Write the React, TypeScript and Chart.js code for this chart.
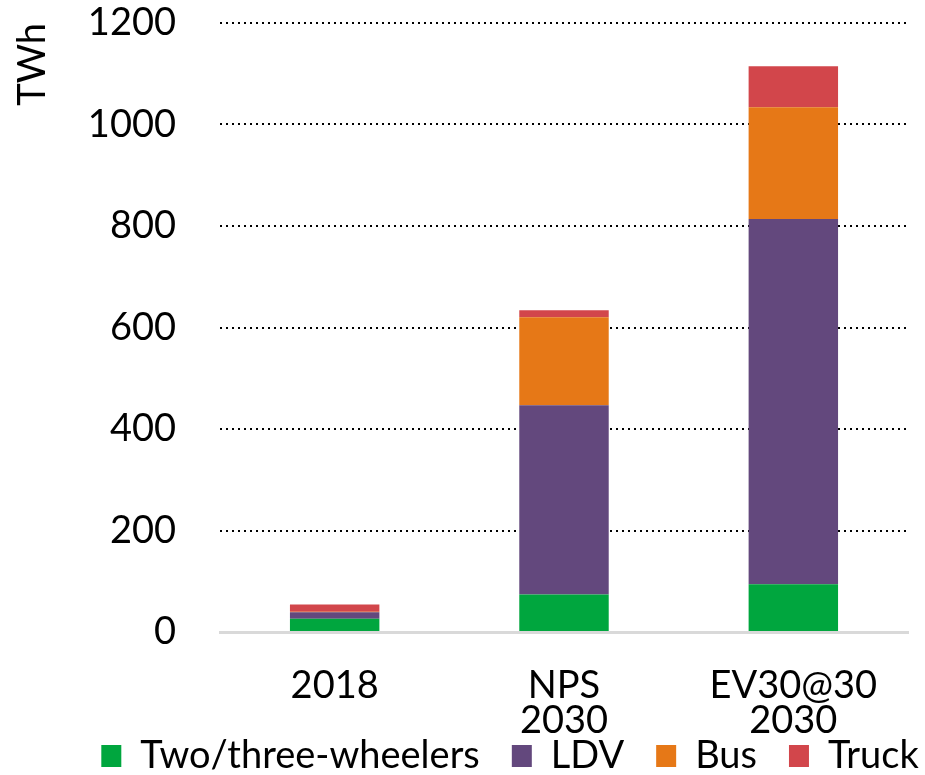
import React, { useEffect, useRef } from "react";
import { Chart, registerables } from "chart.js";

Chart.register(...registerables);

const categories: (string | string[])[] = ["2018", ["NPS", "2030"], ["EV30@30", "2030"]];
const twoThreeWheelers = [26, 74, 94];
const ldv = [13, 373, 720];
const bus = [1, 173, 220];
const truck = [14, 14, 81];
const yTicks = [0, 200, 400, 600, 800, 1000, 1200];

const FONT = "Lato";
const LEGEND_PAD = 32;

const legendShift = {
  id: "legendShift",
  afterLayout(chart: any) {
    const lg = chart.legend;
    if (!lg) return;
    lg.top -= LEGEND_PAD;
    const dx = 510 - (lg.left + lg.right) / 2;
    lg.left += dx;
    lg.right += dx;
  },
};

export default function App() {
  const ref = useRef<HTMLCanvasElement | null>(null);
  useEffect(() => {
    document.body.style.margin = "0";
    const ctx = ref.current!;
    const chart = new Chart(ctx, {
      type: "bar",
      data: {
        labels: categories as any,
        datasets: [
          { label: "Two/three-wheelers", data: twoThreeWheelers, backgroundColor: "#00a63e" },
          { label: "LDV", data: ldv, backgroundColor: "#63487d" },
          { label: "Bus", data: bus, backgroundColor: "#e67817" },
          { label: "Truck", data: truck, backgroundColor: "#d2464b" },
        ],
      },
      plugins: [legendShift],
      options: {
        animation: false,
        responsive: false,
        maintainAspectRatio: false,
        layout: { padding: { top: 0, right: 17, left: 0, bottom: 0 } },
        datasets: { bar: { categoryPercentage: 1, barPercentage: 0.39 } },
        plugins: {
          tooltip: { enabled: false },
          legend: {
            position: "bottom",
            maxHeight: 38,
            labels: {
              color: "#000",
              font: { family: FONT, size: 38 },
              boxWidth: 20,
              boxHeight: 22,
              padding: LEGEND_PAD,
            },
          },
        },
        scales: {
          x: {
            stacked: true,
            grid: { display: false, drawTicks: false },
            border: { display: true, color: "#d9d9d9", width: 3 },
            ticks: { color: "#000", font: { family: FONT, size: 38, lineHeight: 0.9 }, padding: 37 },
            afterFit: (axis: any) => {
              axis.height = 105;
            },
          },
          y: {
            stacked: true,
            min: 0,
            max: 1200,
            afterBuildTicks: (axis: any) => {
              axis.ticks = yTicks.map((v) => ({ value: v }));
            },
            afterFit: (axis: any) => {
              axis.width = 220;
              axis.paddingTop = 23;
              axis.paddingBottom = 0;
            },
            title: {
              display: true,
              text: "TWh",
              align: "end",
              color: "#000",
              font: { family: FONT, size: 38 },
              padding: { top: 10, bottom: 0 },
            },
            grid: {
              drawTicks: false,
              color: (c: any) => (c.tick && c.tick.value === 0 ? "rgba(0,0,0,0)" : "#000"),
              lineWidth: 2,
            },
            border: { display: false, dash: [2, 4] },
            ticks: {
              color: "#000",
              font: { family: FONT, size: 38 },
              padding: 44,
              callback: (v: any) => String(v),
            },
          },
        },
      },
    });
    return () => chart.destroy();
  }, []);
  return (
    <div style={{ width: 925, height: 775 }}>
      <canvas ref={ref} width={925} height={775} />
    </div>
  );
}
